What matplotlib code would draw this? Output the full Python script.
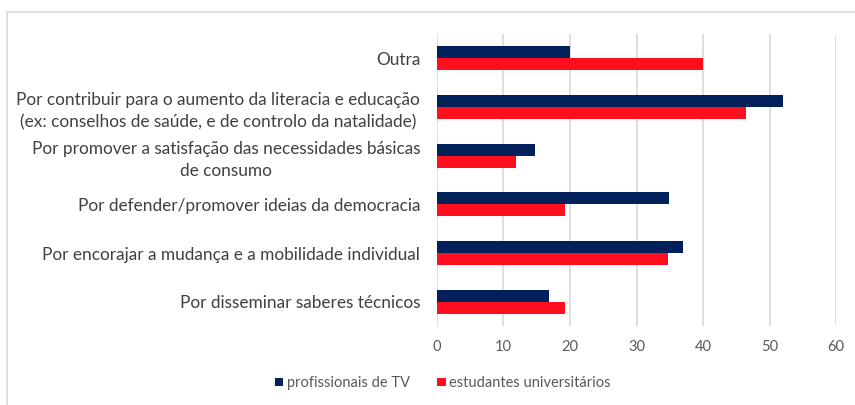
import matplotlib
matplotlib.use('Agg')
import matplotlib.pyplot as plt
import numpy as np
from matplotlib.patches import Rectangle

plt.rcParams['font.family'] = ['Lato', 'DejaVu Sans']

categorias = ['Por disseminar saberes técnicos',
              'Por encorajar a mudança e a mobilidade individual',
              'Por defender/promover ideias da democracia',
              'Por promover a satisfação das necessidades básicas\nde consumo',
              'Por contribuir para o aumento da literacia e educação\n(ex: conselhos de saúde, e de controlo da natalidade)',
              'Outra']
profissionais_tv = [16.9, 37.0, 34.9, 14.8, 52.0, 20.0]
estudantes = [19.2, 34.7, 19.2, 11.9, 46.4, 40.0]
series_nomes = ['profissionais de TV', 'estudantes universitários']
xticks = [0, 10, 20, 30, 40, 50, 60]

cor_tv = '#02215B'
cor_est = '#FF0F1E'

fig = plt.figure(figsize=(8.55, 4.05), dpi=100)
ax = fig.add_axes([0.511, 0.195, 0.467, 0.721])

y = np.arange(len(categorias))
h = 0.245
ax.barh(y + h / 2, profissionais_tv, height=h, color=cor_tv, label=series_nomes[0], zorder=3)
ax.barh(y - h / 2, estudantes, height=h, color=cor_est, label=series_nomes[1], zorder=3)

ax.set_xlim(0, 60)
ax.set_ylim(-0.5, 5.5)
ax.set_xticks(xticks)
ax.set_xticklabels([str(t) for t in xticks])
ax.set_yticks(y)
ax.set_yticklabels(categorias, fontsize=12.4, color='#404040',
                   multialignment='center', linespacing=1.45)
ax.tick_params(axis='x', length=0, labelsize=10.5, labelcolor='#595959', pad=10)
ax.tick_params(axis='y', length=0, pad=12)
ax.grid(axis='x', color='#D9D9D9', linewidth=1.2, zorder=0)
for s in ax.spines.values():
    s.set_visible(False)

leg = fig.legend(loc='center', bbox_to_anchor=(0.518, 0.054), ncol=2, frameon=False,
                 fontsize=10.5, handlelength=0.55, handleheight=0.55, handletextpad=0.25,
                 columnspacing=1.9, labelcolor='#595959')

# moldura do gráfico (só se vê o lado esquerdo e o de cima)
fig.patches.append(Rectangle((7 / 855, -0.1), 1.2, 1 - 12 / 405 + 0.1,
                             transform=fig.transFigure, fill=False,
                             edgecolor='#D9D9D9', linewidth=1.2))

fig.savefig('out.png', dpi=100)
